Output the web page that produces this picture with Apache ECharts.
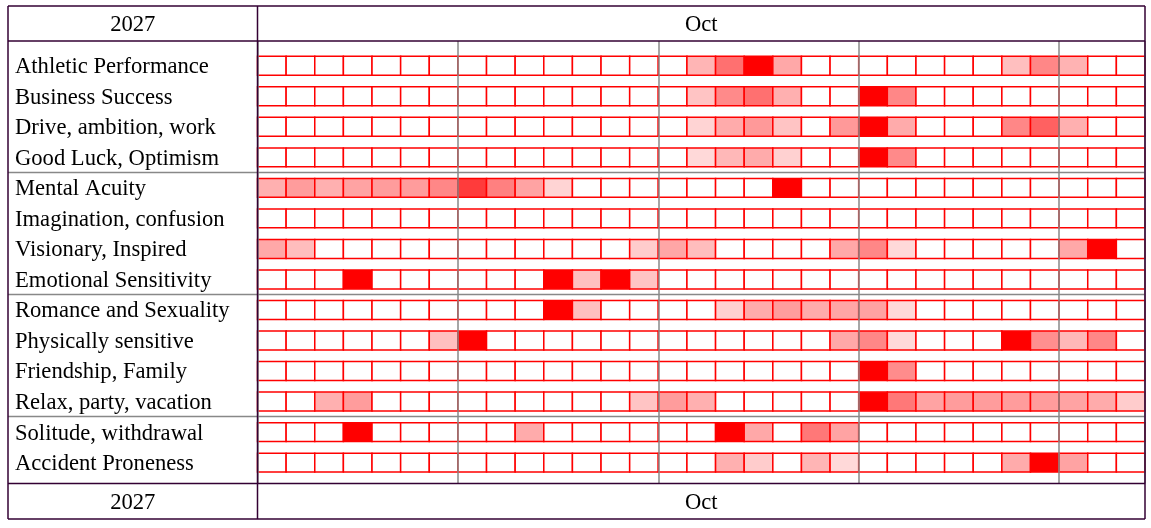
<!DOCTYPE html>
<html>
<head>
<meta charset="utf-8">
<script src="https://cdn.jsdelivr.net/npm/echarts@6/dist/echarts.min.js"></script>
<style>
	html, body { margin: 0; padding: 0; background: #fff; }
	#calChart { width: 1151px; height: 528px; }
</style>
</head>
<body>
<div id="calChart"></div>
<script>
	// row titles, top to bottom
	var rowNames = [
		'Athletic Performance', 'Business Success', 'Drive, ambition, work', 'Good Luck, Optimism',
		'Mental Acuity', 'Imagination, confusion', 'Visionary, Inspired', 'Emotional Sensitivity',
		'Romance and Sexuality', 'Physically sensitive', 'Friendship, Family', 'Relax, party, vacation',
		'Solitude, withdrawal', 'Accident Proneness'
	];
	var yearLabel = '2027';
	var monthLabel = 'Oct';
	var dayCount = 31;
	// rows per group (gray separators between groups)
	var groupSizes = [4, 4, 4, 2];

	// intensity per day (0 = none, 1 = full red), one list per row
	var athletic    = [0,0,0,0,0,0,0,0,0,0,0,0,0,0,0,.29,.56,1,.34,0,0,0,0,0,0,0,.25,.47,.30,0,0];
	var business    = [0,0,0,0,0,0,0,0,0,0,0,0,0,0,0,.23,.46,.56,.31,0,0,1,.47,0,0,0,0,0,0,0,0];
	var drive       = [0,0,0,0,0,0,0,0,0,0,0,0,0,0,0,.17,.33,.40,.23,0,.40,1,.33,0,0,0,.47,.62,.31,0,0];
	var goodLuck    = [0,0,0,0,0,0,0,0,0,0,0,0,0,0,0,.15,.28,.33,.18,0,0,1,.46,0,0,0,0,0,0,0,0];
	var mental      = [.31,.39,.31,.36,.39,.39,.47,.77,.50,.36,.17,0,0,0,0,0,0,0,1,0,0,0,0,0,0,0,0,0,0,0,0];
	var imagination = [0,0,0,0,0,0,0,0,0,0,0,0,0,0,0,0,0,0,0,0,0,0,0,0,0,0,0,0,0,0,0];
	var visionary   = [.34,.26,0,0,0,0,0,0,0,0,0,0,0,.20,.35,.26,0,0,0,0,.34,.47,.15,0,0,0,0,0,.34,1,0];
	var emotional   = [0,0,0,1,0,0,0,0,0,0,1,.25,1,.23,0,0,0,0,0,0,0,0,0,0,0,0,0,0,0,0,0];
	var romance     = [0,0,0,0,0,0,0,0,0,0,1,.25,0,0,0,0,.18,.33,.39,.33,.35,.37,.15,0,0,0,0,0,0,0,0];
	var physical    = [0,0,0,0,0,0,.25,1,0,0,0,0,0,0,0,0,0,0,0,0,.34,.47,.15,0,0,0,1,.44,.28,.47,0];
	var friendship  = [0,0,0,0,0,0,0,0,0,0,0,0,0,0,0,0,0,0,0,0,0,1,.45,0,0,0,0,0,0,0,0];
	var relax       = [0,0,.31,.39,0,0,0,0,0,0,0,0,0,.23,.39,.31,0,0,0,0,0,1,.53,.36,.39,.39,.39,.39,.36,.33,.20];
	var solitude    = [0,0,0,1,0,0,0,0,0,.33,0,0,0,0,0,0,1,.34,0,.53,.36,0,0,0,0,0,0,0,0,0,0];
	var accident    = [0,0,0,0,0,0,0,0,0,0,0,0,0,0,0,0,.31,.20,0,.29,.15,0,0,0,0,0,.33,1,.36,0,0];

	var rowValues = [athletic, business, drive, goodLuck, mental, imagination, visionary, emotional,
		romance, physical, friendship, relax, solitude, accident];

	var cells = [];
	for (var r = 0; r < rowValues.length; r++) {
		for (var d = 0; d < rowValues[r].length; d++) {
			cells.push([d, r, rowValues[r][d]]);
		}
	}

	var serif = 'Liberation Serif, Times New Roman, serif';
	var frameColor = '#330033';
	var L = 8, R = 1145, T = 6, B = 519, colX = 257.5, headY = 41, footY = 483.5;

	var myChart = echarts.init(document.getElementById('calChart'));
	var option = {
		animation: false,
		visualMap: {
			show: false,
			type: 'continuous',
			min: 0,
			max: 1,
			dimension: 2,
			seriesIndex: 0,
			inRange: { color: ['#ffffff', '#ff0000'] }
		},
		grid: [
			{ left: colX, top: 50.5, width: R - colX, height: 427.4 },
			{ left: colX, top: headY, width: R - colX, height: footY - headY }
		],
		xAxis: [
			{ gridIndex: 0, type: 'value', min: 0, max: dayCount, show: false },
			{
				gridIndex: 1, type: 'value', min: 0, max: dayCount, interval: 7, z: 10,
				axisLine: { show: false }, axisTick: { show: false }, axisLabel: { show: false },
				splitLine: { show: true, lineStyle: { color: '#888888', width: 1.5 } }
			}
		],
		yAxis: [
			{
				gridIndex: 0, type: 'category', inverse: true, data: rowNames,
				axisLine: { show: false }, axisTick: { show: false }, splitLine: { show: false },
				axisLabel: {
					interval: 0, align: 'left', margin: colX - 15,
					fontFamily: serif, fontSize: 22.6, color: '#000',
					formatter: function (v) { return '{a|' + v + '}'; },
					rich: {
						a: { fontFamily: serif, fontSize: 22.6, color: '#000', padding: [3, 0, 0, 0] }
					}
				}
			},
			{ gridIndex: 1, type: 'value', min: 0, max: 1, show: false }
		],
		series: [{
			type: 'custom',
			xAxisIndex: 0,
			yAxisIndex: 0,
			encode: { x: 0, y: 1 },
			data: cells,
			renderItem: function (params, api) {
				var p = api.coord([api.value(0), api.value(1)]);
				var s = api.size([1, 1]);
				var h = s[1] * 0.62;
				return {
					type: 'rect',
					shape: { x: p[0], y: p[1] - h / 2, width: s[0], height: h },
					style: { fill: api.visual('color'), stroke: '#ff0000', lineWidth: 1.5 }
				};
			}
		}]
	};
	myChart.setOption(option);

	// gray separators between the row groups, placed from the category axis
	var graphics = [];
	var idx = 0;
	for (var g = 0; g < groupSizes.length - 1; g++) {
		idx += groupSizes[g];
		var yA = myChart.convertToPixel({ yAxisIndex: 0 }, rowNames[idx - 1]);
		var yB = myChart.convertToPixel({ yAxisIndex: 0 }, rowNames[idx]);
		var ySep = Math.round((yA + yB) / 2) - 0.5;
		graphics.push({
			type: 'line', z: 50,
			shape: { x1: L, y1: ySep, x2: R, y2: ySep },
			style: { stroke: '#888888', lineWidth: 1.5 }
		});
	}

	// table frame
	function frameLine(x1, y1, x2, y2) {
		return { type: 'line', z: 60, shape: { x1: x1, y1: y1, x2: x2, y2: y2 },
			style: { stroke: frameColor, lineWidth: 1.5 } };
	}
	graphics.push(frameLine(L, T, R, T));
	graphics.push(frameLine(L, B, R, B));
	graphics.push(frameLine(L, T, L, B));
	graphics.push(frameLine(R, T, R, B));
	graphics.push(frameLine(colX, T, colX, B));
	graphics.push(frameLine(L, headY, R, headY));
	graphics.push(frameLine(L, footY, R, footY));

	function cellText(txt, x, y) {
		return { type: 'text', z: 60, x: x, y: y,
			style: { text: txt, fill: '#000', font: '22.6px ' + serif, align: 'center', verticalAlign: 'middle' } };
	}
	graphics.push(cellText(yearLabel, (L + colX) / 2, (T + headY) / 2 + 1.5));
	graphics.push(cellText(monthLabel, (colX + R) / 2, (T + headY) / 2 + 1.5));
	graphics.push(cellText(yearLabel, (L + colX) / 2, (footY + B) / 2 + 1.5));
	graphics.push(cellText(monthLabel, (colX + R) / 2, (footY + B) / 2 + 1.5));

	myChart.setOption({ graphic: graphics });
</script>
</body>
</html>
